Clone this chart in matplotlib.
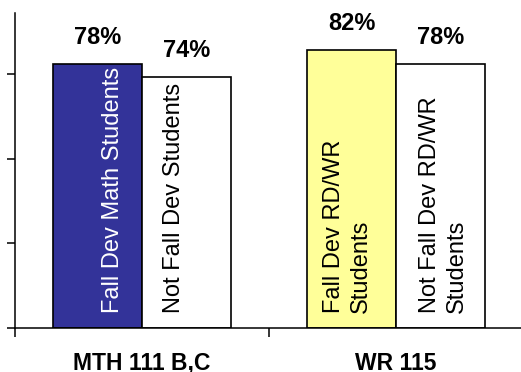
import matplotlib.pyplot as plt

# values
courses = ["MTH 111 B,C", "WR 115"]
dev_pct = [78, 82]
not_dev_pct = [74, 78]
dev_labels = ["Fall Dev Math Students", "Fall Dev RD/WR\nStudents"]
not_dev_labels = ["Not Fall Dev Students", "Not Fall Dev RD/WR\nStudents"]

plt.rcParams['font.family'] = ['Liberation Sans', 'DejaVu Sans']

fig = plt.figure(figsize=(5.21, 3.72), dpi=100)
ax = fig.add_axes([0.0288, 0.118, 0.975, 0.847])

width = 0.35
x = list(range(len(courses)))
x_dev = [i - width / 2 for i in x]
x_not = [i + width / 2 for i in x]

dev_colors = ["#333399", "#FFFF99"]
dev_text_colors = ["white", "black"]

bars_dev = ax.bar(x_dev, dev_pct, width, color=dev_colors,
                  edgecolor="black", linewidth=1.2)
bars_not = ax.bar(x_not, not_dev_pct, width, color="white",
                  edgecolor="black", linewidth=1.2)

# percentage labels above the bars
for bars, vals in [(bars_dev, dev_pct), (bars_not, not_dev_pct)]:
    for b, v in zip(bars, vals):
        ax.annotate(f"{v}%", (b.get_x() + b.get_width() / 2, v),
                    xytext=(0, 20), textcoords="offset pixels",
                    ha="center", va="baseline",
                    fontsize=17, fontweight="bold")

# rotated labels inside bars (nudges in pixels)
dev_nudge = [15, -4]
not_nudge = [-12, 3]
for i in range(len(courses)):
    ax.annotate(dev_labels[i], (x_dev[i], 0), xytext=(dev_nudge[i], 15),
                textcoords="offset pixels", rotation=90,
                rotation_mode="anchor", ha="left", va="center",
                multialignment="left", linespacing=1.3,
                fontsize=17, color=dev_text_colors[i])
    ax.annotate(not_dev_labels[i], (x_not[i], 0), xytext=(not_nudge[i], 15),
                textcoords="offset pixels", rotation=90,
                rotation_mode="anchor", ha="left", va="center",
                multialignment="left", linespacing=1.3,
                fontsize=17, color="black")

ax.set_xlim(-0.5, 1.5)
ax.set_ylim(0, 93)

ax.spines["top"].set_visible(False)
ax.spines["right"].set_visible(False)
ax.spines["left"].set_linewidth(1.1)
ax.spines["bottom"].set_linewidth(1.1)

ax.set_yticks([0, 25, 50, 75])
ax.set_yticklabels([])
ax.tick_params(axis="y", direction="out", length=5.5, width=1.1)

ax.set_xticks([-0.5, 0.5, 1.5])
ax.set_xticklabels([])
ax.tick_params(axis="x", which="major", direction="out", length=6.5, width=1.1)
ax.set_xticks(x, minor=True)
ax.set_xticklabels(courses, minor=True, fontsize=16.5, fontweight="bold")
ax.tick_params(axis="x", which="minor", length=0, pad=17)

fig.savefig("out.png", dpi=100)
